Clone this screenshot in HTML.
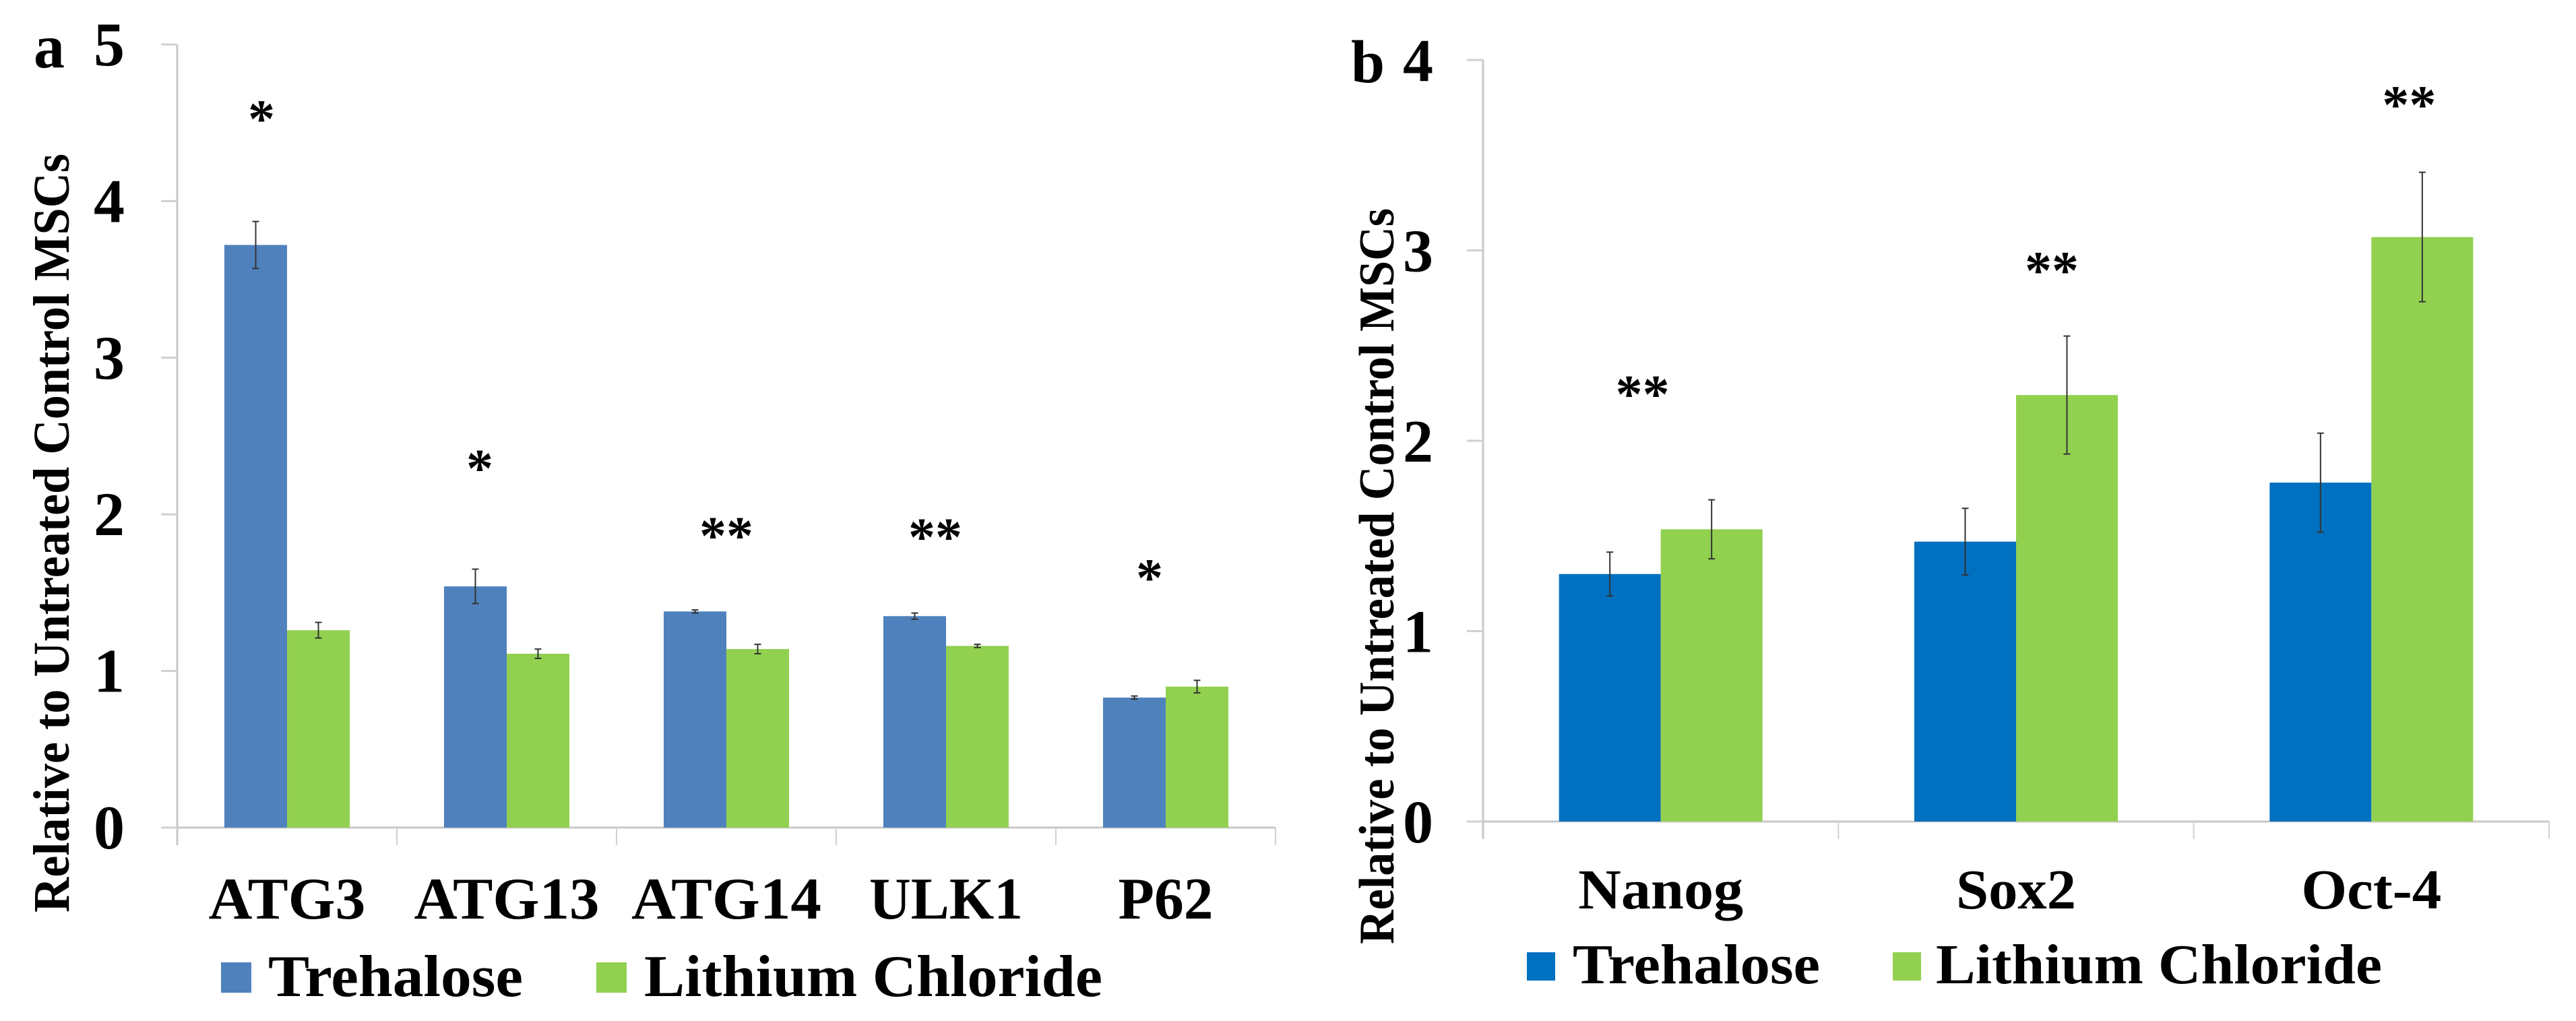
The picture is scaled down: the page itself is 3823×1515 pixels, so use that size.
<!DOCTYPE html>
<html><head><meta charset="utf-8"><style>
html,body{margin:0;padding:0;background:#fff;}
svg{display:block;}
text{font-family:"Liberation Serif",serif;font-weight:bold;fill:#000;}
</style></head>
<body>
<svg id="chart" width="3823" height="1515" viewBox="0 0 3823 1515" xmlns="http://www.w3.org/2000/svg">
<g id="pa"></g>
<g id="pb"></g>
</svg>
<script>
// Panel a data
const catsA = ["ATG3","ATG13","ATG14","ULK1","P62"];
const treA = [3.72,1.54,1.38,1.35,0.83];
const treErrA = [0.15,0.11,0.01,0.02,0.01];
const liA = [1.26,1.11,1.14,1.16,0.90];
const liErrA = [0.05,0.03,0.03,0.01,0.04];
const sigA = ["*","*","**","**","*"];
const sigYA = [4.58,2.35,1.92,1.91,1.65];
const ticksA = [0,1,2,3,4,5];
// Panel b data
const catsB = ["Nanog","Sox2","Oct-4"];
const treB = [1.30,1.47,1.78];
const treErrB = [0.115,0.175,0.26];
const liB = [1.535,2.24,3.07];
const liErrB = [0.155,0.31,0.34];
const sigB = ["**","**","**"];
const sigYB = [2.29,2.94,3.81];
const ticksB = [0,1,2,3,4];

const NS="http://www.w3.org/2000/svg";
function mk(parent,tag,attrs,txt){const e=document.createElementNS(NS,tag);for(const k in attrs)e.setAttribute(k,attrs[k]);if(txt!==undefined)e.textContent=txt;parent.appendChild(e);return e;}

function panel(g,cfg){
  const y=v=>cfg.y0-(v/cfg.ymax)*(cfg.y0-cfg.ytop);
  const cw=(cfg.x1-cfg.x0)/cfg.cats.length;
  let e=mk(g,'line',{x1:cfg.x0,y1:cfg.ytop,x2:cfg.x0,y2:cfg.y0+26,stroke:'#c8c8c8','stroke-width':3});
  
  
  e=mk(g,'line',{x1:cfg.x0-22,y1:cfg.y0,x2:cfg.x1,y2:cfg.y0,stroke:'#c8c8c8','stroke-width':3});
  
  
  cfg.ticks.forEach(t=>{
    const tk=mk(g,'line',{x1:cfg.x0-24,y1:y(t),x2:cfg.x0,y2:y(t),stroke:'#d0d0d0','stroke-width':3});
    
    
    const tl=mk(g,'text',{x:cfg.tickX,y:y(t)+31,'text-anchor':'end','font-size':cfg.tickFs},String(t));
    
    
  });
  for(let i=1;i<=cfg.cats.length;i++){
    const tk=mk(g,'line',{x1:cfg.x0+i*cw,y1:cfg.y0,x2:cfg.x0+i*cw,y2:cfg.y0+26,stroke:'#d0d0d0','stroke-width':2});
    
    
  }
  cfg.cats.forEach((c,i)=>{
    const cx=cfg.x0+cw*(i+0.5);
    const series=[[cfg.tre,cfg.treErr,cfg.blue,-1,'trehalose'],[cfg.li,cfg.liErr,'#92d050',0,'lithium']];
    series.forEach(([vals,errs,col,off,nm])=>{
      const bx=cx+off*cfg.bw;
      const r=mk(g,'rect',{x:bx,y:y(vals[i]),width:cfg.bw,height:cfg.y0-y(vals[i]),fill:col});
      
      
      const ex=bx+cfg.bw/2, t=y(vals[i]+errs[i]), b=y(vals[i]-errs[i]);
      const eb=mk(g,'path',{d:`M${ex},${t}V${b}M${ex-5},${t}H${ex+5}M${ex-5},${b}H${ex+5}`,stroke:'#333',"stroke-width":2,fill:'none'});
      
      
    });
    const s=mk(g,'text',{x:cx+cfg.sigOff[i],y:y(cfg.sigY[i])+40,'text-anchor':'middle','font-size':cfg.sigFs},cfg.sig[i]);
    
    
    const l=mk(g,'text',{x:cx-cfg.catW[i]/2,y:cfg.catY,'font-size':cfg.catFs,textLength:cfg.catW[i],lengthAdjust:'spacingAndGlyphs'},c);
    
    
  });
  const yt=mk(g,'text',{x:0,y:0,'text-anchor':'middle','font-size':cfg.titleFs,textLength:cfg.titleLen,lengthAdjust:'spacingAndGlyphs',transform:`translate(${cfg.titleX},${cfg.titleY}) rotate(-90)`},'Relative to Untreated Control MSCs');
  
  
  const pl=mk(g,'text',{x:cfg.letterX,y:cfg.letterY,'font-size':cfg.tickFs},cfg.letter);
  
  
  const L=cfg.leg;
  let q=mk(g,'rect',{x:L[0],y:L[1],width:L[2],height:L[2],fill:cfg.blue});
  
  
  q=mk(g,'text',{x:L[3],y:L[4],'font-size':cfg.legFs,textLength:L[5],lengthAdjust:'spacingAndGlyphs'},'Trehalose');
  
  
  q=mk(g,'rect',{x:L[6],y:L[1],width:L[2],height:L[2],fill:'#92d050'});
  
  
  q=mk(g,'text',{x:L[7],y:L[4],'font-size':cfg.legFs,textLength:L[8],lengthAdjust:'spacingAndGlyphs'},'Lithium Chloride');
  
  
}

panel(document.getElementById('pa'),{
  cats:catsA,tre:treA,treErr:treErrA,li:liA,liErr:liErrA,sig:sigA,sigY:sigYA,ticks:ticksA,
  ymax:5,y0:1228,ytop:66,x0:263,x1:1893,bw:93,blue:'#4f81bd',
  sigOff:[-38,-40,0,-16,-24],sigFs:80,tickX:185,tickFs:92,catY:1363,catFs:88,
  catW:[233,275,282,228,141],
  titleX:102,titleY:791,titleFs:76,titleLen:1126,letter:'a',letterX:50,letterY:100,
  leg:[328,1428,45,398,1478,378,885,956,680],legFs:88
});
panel(document.getElementById('pb'),{
  cats:catsB,tre:treB,treErr:treErrB,li:liB,liErr:liErrB,sig:sigB,sigY:sigYB,ticks:ticksB,
  ymax:4,y0:1219,ytop:89,x0:2201,x1:3783,bw:151,blue:'#0070c0',
  sigOff:[-27,53,56],sigFs:80,tickX:2127,tickFs:90,catY:1348,catFs:84,
  catW:[245,178,208],
  titleX:2068,titleY:855,titleFs:74,titleLen:1092,letter:'b',letterX:2005,letterY:122,
  leg:[2266,1413,42,2334,1459,367,2809,2873,662],legFs:84
});
</script>
</body></html>
